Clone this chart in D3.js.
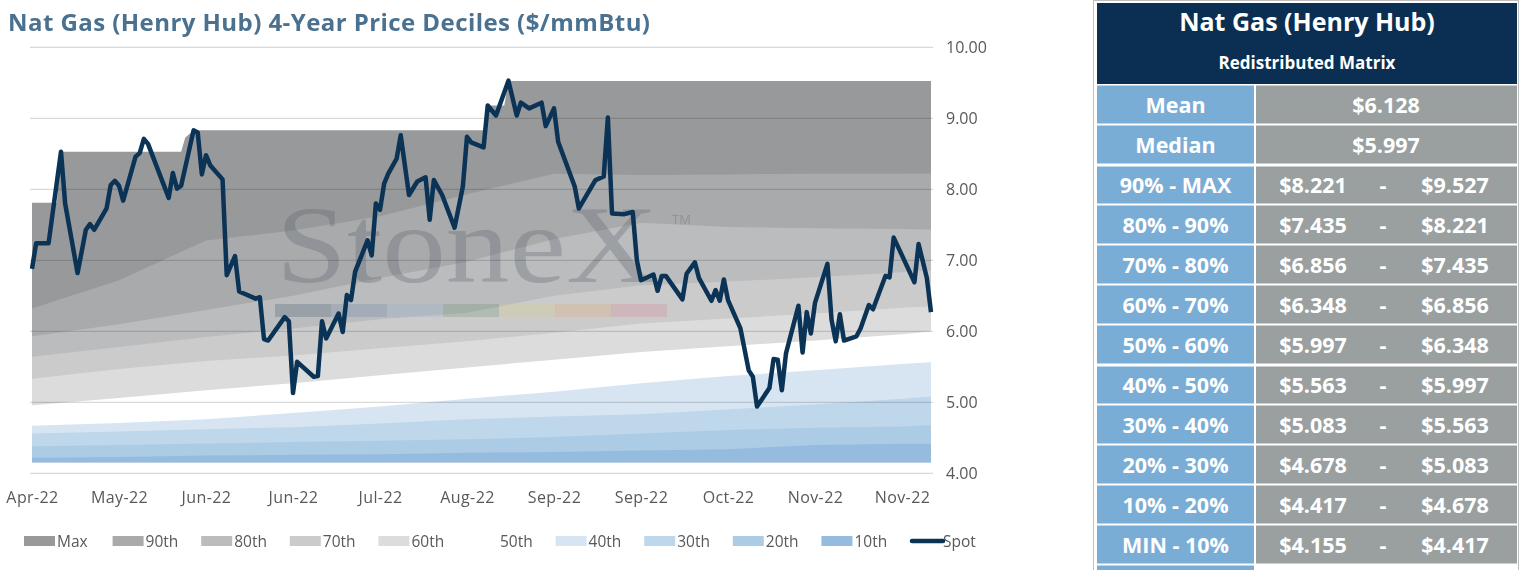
<!DOCTYPE html>
<html>
<head>
<meta charset="utf-8">
<script src="https://cdn.jsdelivr.net/npm/d3@7"></script>
<style>
  body { margin: 0; background: #fff; }
  svg { display: block; font-family: 'Open Sans', Lato, sans-serif; }
</style>
</head>
<body>
<div id="container"></div>
<script>
const width = 1520;
const height = 570;

// x labels every 3 weeks
const tickDates = ['2022-04-28', '2022-05-19', '2022-06-09', '2022-06-30', '2022-07-21', '2022-08-11',
  '2022-09-01', '2022-09-22', '2022-10-13', '2022-11-03', '2022-11-24'];
const yTicks = [4, 5, 6, 7, 8, 9, 10];

// decile curves, sampled at the tick dates + last day
const bandDates = [...tickDates, '2022-12-01'];
const p90 = [6.32, 6.72, 7.28, 7.42, 7.62, 7.93, 8.22, 8.20, 8.21, 8.22, 8.22, 8.221];
const p80 = [5.93, 6.10, 6.30, 6.50, 6.75, 6.98, 7.30, 7.53, 7.47, 7.45, 7.44, 7.435];
const p70 = [5.64, 5.78, 5.92, 6.04, 6.17, 6.26, 6.50, 6.65, 6.70, 6.76, 6.83, 6.856];
const p60 = [5.33, 5.47, 5.58, 5.66, 5.76, 5.86, 5.98, 6.11, 6.18, 6.25, 6.33, 6.348];
const p50 = [4.96, 5.06, 5.17, 5.27, 5.38, 5.49, 5.60, 5.71, 5.79, 5.87, 5.96, 5.997];
const p40 = [4.67, 4.71, 4.76, 4.85, 4.94, 5.05, 5.15, 5.27, 5.37, 5.45, 5.54, 5.563];
const p30 = [4.56, 4.59, 4.62, 4.65, 4.70, 4.76, 4.80, 4.83, 4.90, 4.97, 5.05, 5.083];
const p20 = [4.38, 4.40, 4.42, 4.44, 4.46, 4.48, 4.51, 4.56, 4.61, 4.64, 4.66, 4.678];
const p10 = [4.22, 4.23, 4.25, 4.26, 4.27, 4.29, 4.30, 4.32, 4.34, 4.40, 4.415, 4.417];
const minPrice = 4.155;

// max is a step series
const maxDates = ['2022-04-28', '2022-05-04', '2022-05-05', '2022-06-03', '2022-06-04', '2022-06-05',
  '2022-06-06', '2022-08-15', '2022-08-16', '2022-08-20', '2022-08-21', '2022-12-01'];
const maxVals = [7.81, 7.81, 8.53, 8.53, 8.73, 8.78, 8.83, 8.83, 9.18, 9.18, 9.527, 9.527];

const spot = [
  ['2022-04-28', 6.88], ['2022-04-29', 7.24], ['2022-05-02', 7.24], ['2022-05-05', 8.53], ['2022-05-06', 7.80],
  ['2022-05-09', 6.82], ['2022-05-11', 7.43], ['2022-05-12', 7.51], ['2022-05-13', 7.43], ['2022-05-16', 7.73],
  ['2022-05-17', 8.06], ['2022-05-18', 8.12], ['2022-05-19', 8.05], ['2022-05-20', 7.84], ['2022-05-23', 8.46],
  ['2022-05-24', 8.51], ['2022-05-25', 8.71], ['2022-05-26', 8.64], ['2022-05-31', 7.88], ['2022-06-01', 8.23],
  ['2022-06-02', 8.01], ['2022-06-03', 8.05], ['2022-06-06', 8.83], ['2022-06-07', 8.80], ['2022-06-08', 8.21],
  ['2022-06-09', 8.48], ['2022-06-10', 8.34], ['2022-06-13', 8.14], ['2022-06-14', 6.79], ['2022-06-16', 7.06],
  ['2022-06-17', 6.56], ['2022-06-21', 6.46], ['2022-06-22', 6.48], ['2022-06-23', 5.89], ['2022-06-24', 5.87],
  ['2022-06-28', 6.20], ['2022-06-29', 6.14], ['2022-06-30', 5.13], ['2022-07-01', 5.57], ['2022-07-05', 5.36],
  ['2022-07-06', 5.37], ['2022-07-07', 6.14], ['2022-07-08', 5.90], ['2022-07-11', 6.25], ['2022-07-12', 5.99],
  ['2022-07-13', 6.51], ['2022-07-14', 6.44], ['2022-07-15', 6.84], ['2022-07-18', 7.28], ['2022-07-19', 7.07],
  ['2022-07-20', 7.80], ['2022-07-21', 7.71], ['2022-07-22', 8.08], ['2022-07-23', 8.22], ['2022-07-25', 8.43],
  ['2022-07-26', 8.76], ['2022-07-28', 7.92], ['2022-07-30', 8.11], ['2022-08-01', 8.17], ['2022-08-02', 7.57],
  ['2022-08-03', 8.13], ['2022-08-05', 7.92], ['2022-08-08', 7.46], ['2022-08-10', 8.04], ['2022-08-11', 8.74],
  ['2022-08-12', 8.66], ['2022-08-15', 8.59], ['2022-08-16', 9.18], ['2022-08-18', 9.04], ['2022-08-21', 9.53],
  ['2022-08-23', 9.04], ['2022-08-24', 9.22], ['2022-08-26', 9.14], ['2022-08-29', 9.22], ['2022-08-30', 8.89],
  ['2022-09-01', 9.14], ['2022-09-02', 8.67], ['2022-09-06', 8.04], ['2022-09-07', 7.73], ['2022-09-11', 8.13],
  ['2022-09-13', 8.18], ['2022-09-14', 9.01], ['2022-09-15', 7.66], ['2022-09-18', 7.65], ['2022-09-20', 7.68],
  ['2022-09-21', 7.00], ['2022-09-22', 6.72], ['2022-09-25', 6.80], ['2022-09-26', 6.57], ['2022-09-27', 6.78],
  ['2022-09-28', 6.78], ['2022-10-02', 6.45], ['2022-10-03', 6.81], ['2022-10-05', 6.97], ['2022-10-06', 6.75],
  ['2022-10-09', 6.43], ['2022-10-10', 6.58], ['2022-10-11', 6.43], ['2022-10-12', 6.73], ['2022-10-13', 6.44],
  ['2022-10-16', 6.04], ['2022-10-18', 5.45], ['2022-10-19', 5.36], ['2022-10-20', 4.94], ['2022-10-23', 5.20],
  ['2022-10-24', 5.61], ['2022-10-25', 5.60], ['2022-10-26', 5.17], ['2022-10-27', 5.69], ['2022-10-30', 6.36],
  ['2022-10-31', 5.70], ['2022-11-01', 6.27], ['2022-11-02', 5.97], ['2022-11-03', 6.40], ['2022-11-06', 6.95],
  ['2022-11-07', 6.16], ['2022-11-08', 5.86], ['2022-11-09', 6.24], ['2022-11-10', 5.87], ['2022-11-13', 5.93],
  ['2022-11-14', 6.04], ['2022-11-16', 6.37], ['2022-11-17', 6.31], ['2022-11-20', 6.78], ['2022-11-21', 6.76],
  ['2022-11-22', 7.32], ['2022-11-24', 7.07], ['2022-11-27', 6.69], ['2022-11-28', 7.23], ['2022-11-30', 6.75],
  ['2022-12-01', 6.27]
];

const seriesNames = ['Max', '90th', '80th', '70th', '60th', '50th', '40th', '30th', '20th', '10th'];
const seriesColors = ['#98999b', '#a9aaac', '#bbbcbe', '#cbcbcc', '#dcdcdc', '#ffffff', '#d7e5f2', '#bed7eb', '#accce6', '#95bcdf'];
const spotColor = '#0b3356';

const statRows = [['Mean', '$6.128'], ['Median', '$5.997']];
const rangeLabels = ['90% - MAX', '80% - 90%', '70% - 80%', '60% - 70%', '50% - 60%',
  '40% - 50%', '30% - 40%', '20% - 30%', '10% - 20%', 'MIN - 10%'];
const rangeLow = ['$8.221', '$7.435', '$6.856', '$6.348', '$5.997', '$5.563', '$5.083', '$4.678', '$4.417', '$4.155'];
const rangeHigh = ['$9.527', '$8.221', '$7.435', '$6.856', '$6.348', '$5.997', '$5.563', '$5.083', '$4.678', '$4.417'];

const parse = d3.timeParse('%Y-%m-%d');
const font = "'Open Sans', Lato, sans-serif";

const xScale = d3.scaleTime()
  .domain([parse('2022-04-28'), parse('2022-12-01')])
  .range([32, 931]);
const yScale = d3.scaleLinear().domain([4, 10]).range([473.3, 47.3]);

const svg = d3.select('#container')
  .append('svg')
  .attr('width', width)
  .attr('height', height);

svg.append('text')
  .attr('x', 8)
  .attr('y', 31)
  .attr('fill', '#4a7190')
  .attr('font-size', 24)
  .attr('font-weight', 700)
  .attr('textLength', 642)
  .attr('lengthAdjust', 'spacing')
  .text('Nat Gas (Henry Hub) 4-Year Price Deciles ($/mmBtu)');

// bands: each area runs from its level down to the min
const bandSeries = [p90, p80, p70, p60, p50, p40, p30, p20, p10]
  .map(arr => bandDates.map((d, i) => ({ date: parse(d), v: arr[i] })));
const maxSeries = maxDates.map((d, i) => ({ date: parse(d), v: maxVals[i] }));

const area = d3.area()
  .x(d => xScale(d.date))
  .y0(yScale(minPrice))
  .y1(d => yScale(d.v));

svg.append('g')
  .selectAll('path')
  .data([maxSeries, ...bandSeries])
  .join('path')
  .attr('fill', (d, i) => seriesColors[i])
  .attr('d', area);

// StoneX watermark
const wm = svg.append('g').attr('class', 'watermark');
wm.append('text')
  .attr('x', 276)
  .attr('y', 282)
  .attr('font-family', "'Liberation Serif', 'DejaVu Serif', serif")
  .attr('font-size', 110)
  .attr('textLength', 382)
  .attr('lengthAdjust', 'spacingAndGlyphs')
  .attr('fill', '#56606b')
  .attr('fill-opacity', 0.3)
  .text('StoneX');
wm.append('text')
  .attr('x', 672)
  .attr('y', 224)
  .attr('font-size', 13)
  .attr('fill', '#56606b')
  .attr('fill-opacity', 0.3)
  .text('TM');
const stripe = ['#2f4a66', '#5a7ea3', '#8fb0cf', '#5e8c5e', '#d9cf79', '#e2a25f', '#d77b88'];
wm.selectAll('rect')
  .data(stripe)
  .join('rect')
  .attr('x', (d, i) => 275 + i * 56)
  .attr('y', 304)
  .attr('width', 56)
  .attr('height', 13)
  .attr('fill', d => d)
  .attr('fill-opacity', 0.24);

// gridlines
svg.append('g')
  .selectAll('line')
  .data(yTicks)
  .join('line')
  .attr('x1', 30)
  .attr('x2', 933)
  .attr('y1', d => yScale(d))
  .attr('y2', d => yScale(d))
  .attr('stroke', '#d9d9d9')
  .attr('stroke-width', 1.2)
  .style('mix-blend-mode', 'multiply');

svg.append('g')
  .attr('transform', 'translate(946,0)')
  .call(d3.axisRight(yScale).tickValues(yTicks).tickSize(0).tickFormat(d3.format('.2f')))
  .call(g => g.select('.domain').remove())
  .call(g => g.selectAll('text')
    .attr('x', 0)
    .attr('fill', '#595959')
    .attr('font-size', 16)
    .attr('font-family', font));

svg.append('g')
  .attr('transform', 'translate(0,489)')
  .call(d3.axisBottom(xScale).tickValues(tickDates.map(parse)).tickSize(0).tickFormat(d3.timeFormat('%b-%y')))
  .call(g => g.select('.domain').remove())
  .call(g => g.selectAll('text')
    .attr('fill', '#595959')
    .attr('font-size', 16)
    .attr('letter-spacing', 0.4)
    .attr('font-family', font));

// spot price
const line = d3.line()
  .x(d => xScale(parse(d[0])))
  .y(d => yScale(d[1]));

svg.append('path')
  .datum(spot)
  .attr('fill', 'none')
  .attr('stroke', spotColor)
  .attr('stroke-width', 4.5)
  .attr('stroke-linejoin', 'round')
  .attr('d', line);

// legend
const legend = svg.append('g').attr('transform', 'translate(24,536)');
const items = legend.selectAll('g')
  .data([...seriesNames, 'Spot'])
  .join('g')
  .attr('transform', (d, i) => `translate(${i * 88.6},0)`);
items.filter(d => d !== 'Spot')
  .append('rect')
  .attr('width', 31)
  .attr('height', 10)
  .attr('fill', d => seriesColors[seriesNames.indexOf(d)]);
items.filter(d => d === 'Spot')
  .append('line')
  .attr('x1', 2).attr('x2', 33)
  .attr('y1', 5).attr('y2', 5)
  .attr('stroke', spotColor)
  .attr('stroke-width', 4.5)
  .attr('stroke-linecap', 'round');
items.append('text')
  .attr('x', 33)
  .attr('y', 10.5)
  .attr('font-size', 15.5)
  .attr('fill', '#595959')
  .text(d => d);

// matrix table on the right
const tbl = svg.append('g').attr('class', 'matrix');
const tx0 = 1097, tx1 = 1254, tx2 = 1517;
const rowH = 40, tableTop = 84;

tbl.append('rect')
  .attr('x', 1093.5).attr('y', 0.5)
  .attr('width', 425).attr('height', 575)
  .attr('fill', '#fff')
  .attr('stroke', '#bfbfbf');

tbl.append('rect')
  .attr('x', tx0).attr('y', 3)
  .attr('width', tx2 - tx0).attr('height', tableTop - 3)
  .attr('fill', '#0b2f52');
tbl.append('text')
  .attr('x', (tx0 + tx2) / 2).attr('y', 31)
  .attr('text-anchor', 'middle')
  .attr('fill', '#fff')
  .attr('font-size', 25)
  .attr('font-weight', 700)
  .text('Nat Gas (Henry Hub)');
tbl.append('text')
  .attr('x', (tx0 + tx2) / 2).attr('y', 69)
  .attr('text-anchor', 'middle')
  .attr('fill', '#fff')
  .attr('font-size', 17)
  .attr('font-weight', 700)
  .text('Redistributed Matrix');

const rows = [
  ...statRows.map(r => ({ label: r[0], single: r[1] })),
  ...rangeLabels.map((l, i) => ({ label: l, low: rangeLow[i], high: rangeHigh[i] })),
  { label: '', filler: true }
];

const thick = i => i === 2 || i === 7;

const rowG = tbl.selectAll('g.row')
  .data(rows)
  .join('g')
  .attr('class', 'row')
  .attr('transform', (d, i) => `translate(0,${tableTop + i * rowH})`);

rowG.append('rect')
  .attr('x', tx0).attr('y', (d, i) => thick(i) ? 2.5 : 1.5)
  .attr('width', tx1 - tx0)
  .attr('height', (d, i) => thick(i) ? rowH - 3 : rowH - 2)
  .attr('fill', '#7aadd6');
rowG.append('rect')
  .attr('x', tx1 + 2).attr('y', (d, i) => thick(i) ? 2.5 : 1.5)
  .attr('width', tx2 - tx1 - 2)
  .attr('height', (d, i) => thick(i) ? rowH - 3 : rowH - 2)
  .attr('fill', d => d.filler ? '#fff' : '#99a09f');

const cellText = sel => sel
  .attr('y', 29)
  .attr('text-anchor', 'middle')
  .attr('fill', '#fff')
  .attr('font-size', 21.5)
  .attr('font-weight', 700);

rowG.append('text').call(cellText).attr('x', (tx0 + tx1) / 2).text(d => d.label);
rowG.filter(d => d.single).append('text').call(cellText).attr('x', 1386).text(d => d.single);
rowG.filter(d => d.low).append('text').call(cellText).attr('x', 1313).text(d => d.low);
rowG.filter(d => d.low).append('text').call(cellText).attr('x', 1383).text('-');
rowG.filter(d => d.low).append('text').call(cellText).attr('x', 1455).text(d => d.high);
</script>
</body>
</html>
